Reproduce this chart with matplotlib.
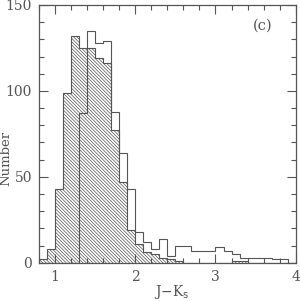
import numpy as np
import matplotlib
matplotlib.use("Agg")
import matplotlib.pyplot as plt

# J-Ks histogram, bins of 0.1 from 0.8 to 4.0
bin_edges = np.round(np.arange(0.8, 4.01, 0.1), 1)

# hatched sample
hatched_counts = [2, 8, 43, 99, 132, 125, 125, 119, 116, 77,
                  47, 19, 11, 6, 5, 3, 2, 1, 0, 0,
                  0, 0, 0, 0, 1, 1, 0, 0, 0, 0,
                  0, 0]
# open sample
open_counts = [0, 0, 0, 0, 0, 87, 135, 128, 129, 88,
               64, 43, 18, 12, 8, 14, 4, 10, 10, 7,
               7, 7, 9, 7, 5, 3, 3, 3, 3, 2,
               2, 0]

panel_label = "(c)"
grey = "#555555"

plt.rcParams["font.family"] = "DejaVu Serif"
plt.rcParams["hatch.linewidth"] = 0.5

fig = plt.figure(figsize=(3.0, 3.01), dpi=100)
ax = fig.add_axes([0.13, 0.127, 0.8557, 0.8564])

ax.stairs(hatched_counts, bin_edges, fill=True, facecolor="white",
          edgecolor=grey, hatch="\\" * 10, linewidth=0.8)
ax.stairs(open_counts, bin_edges, fill=False, color=grey, linewidth=0.8)

ax.set_xlim(0.8, 4.0)
ax.set_ylim(0, 150)
ax.set_xticks([1, 2, 3, 4])
ax.set_xticks(np.arange(0.8, 4.01, 0.2), minor=True)
ax.set_yticks([0, 50, 100, 150])
ax.set_yticks(np.arange(0, 151, 10), minor=True)
ax.tick_params(which="both", direction="in", top=True, right=True,
               color=grey, labelcolor=grey, labelsize=10, width=0.8)
ax.tick_params(which="major", length=6.5, pad=5)
ax.tick_params(which="minor", length=3.3)
for s in ax.spines.values():
    s.set_color(grey)
    s.set_linewidth(0.9)

fig.text(0.573, 0.03, r"J$-$K$_{\rm s}$", color=grey, fontsize=10,
         ha="center", va="center")
fig.text(0.018, 0.472, "Number", color=grey, fontsize=9.5, rotation=90,
         ha="center", va="center")
ax.text(3.59, 138, panel_label, color=grey, fontsize=10.5, ha="center", va="center")

fig.savefig("out.png", dpi=100)
